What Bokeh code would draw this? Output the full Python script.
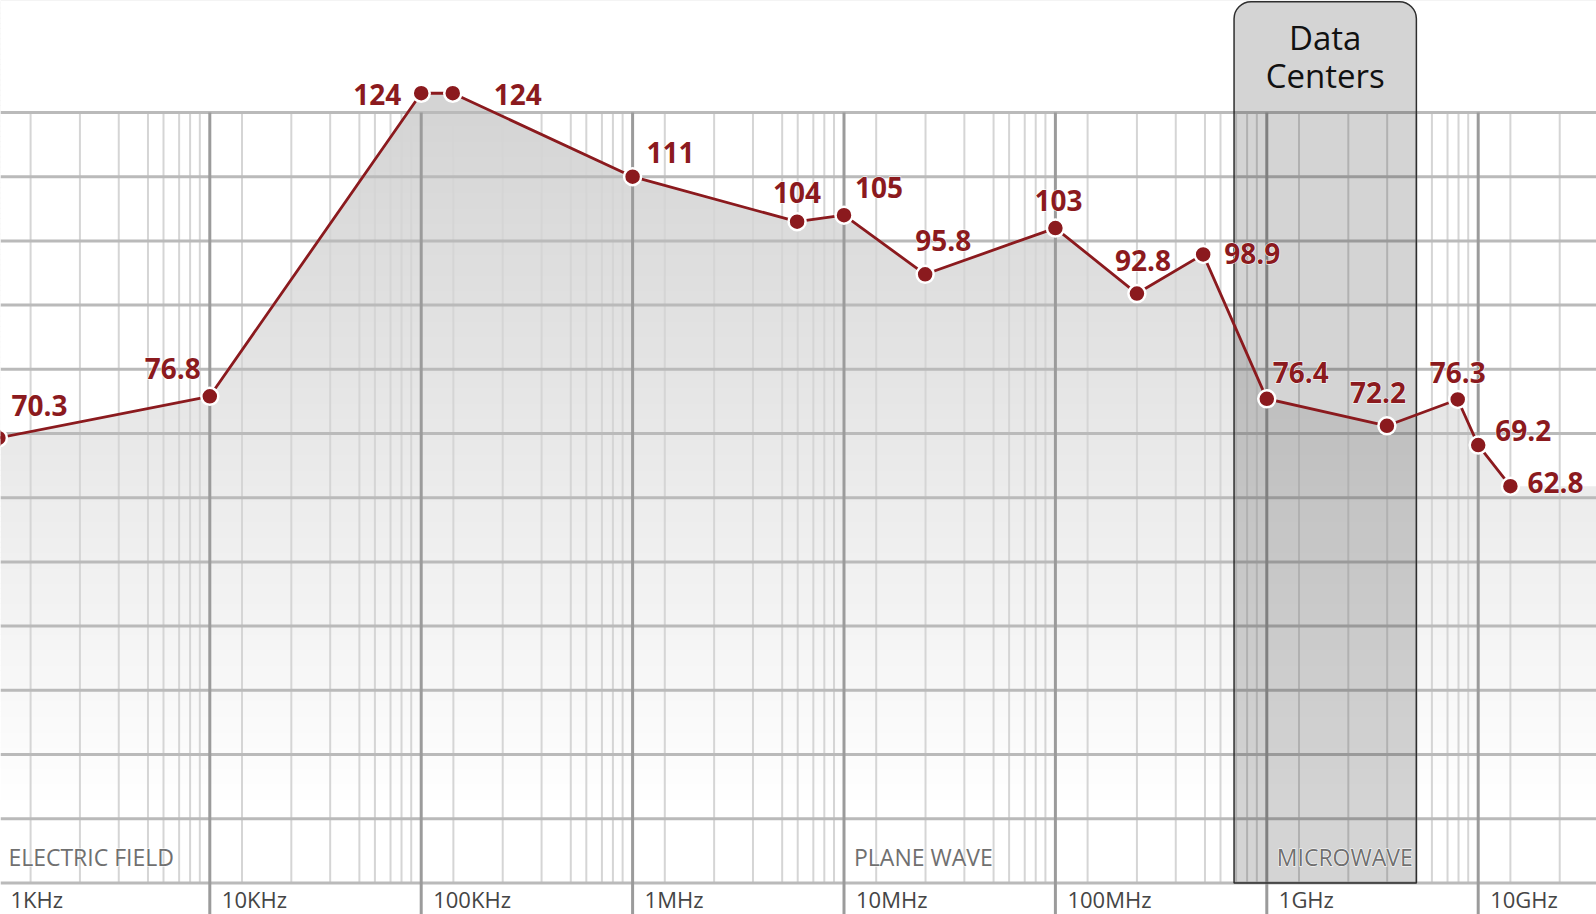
import numpy as np
from bokeh.plotting import figure
from bokeh.models import Range1d
from bokeh.core.properties import value
from bokeh.embed import file_html
from bokeh.resources import INLINE

# ---------------- data ----------------
freqs = [1e3, 1e4, 1e5, 1.41e5, 1e6, 6e6, 1e7, 2.42e7, 1e8, 2.43e8,
         5e8, 1e9, 3.7e9, 8e9, 1e10, 1.42e10]
levels = [70.3, 76.8, 124, 124, 111, 104, 105, 95.8, 103, 92.8,
          98.9, 76.4, 72.2, 76.3, 69.2, 62.8]

tick_freqs = [1e3, 1e4, 1e5, 1e6, 1e7, 1e8, 1e9, 1e10]
tick_labels = ["1KHz", "10KHz", "100KHz", "1MHz", "10MHz", "100MHz", "1GHz", "10GHz"]

region_freqs = [1e3, 1e7, 1e9]
region_labels = ["ELECTRIC FIELD", "PLANE WAVE", "MICROWAVE"]

band_lo, band_hi = 0.7e9, 5.1e9
band_title = ["Data", "Centers"]

minor_mult = [1.42, 2.43, 3.71, 5.1, 6.04, 7.16, 8.07, 8.97]
y_grid = [121, 111, 101, 91, 81, 71, 61, 51, 41, 31, 21, 11, 1]

# label placement (screen px offsets of the text baseline from each point) -- style only
label_dx = [13, -9, -20, 41, 14, 0, 11, 18, 3, 6, 21, 6, -9, 0, 17, 17]
label_dy = [-22, -17, 12, 12, -14, -19, -17, -23, -17, -23, 9, -16, -23, -17, -4, 7]
label_align = ["left", "right", "right", "left", "left", "center", "left", "center",
               "center", "center", "left", "left", "center", "center", "left", "left"]

# ---------------- geometry of the frame ----------------
PX_DEC = 211.4      # px per decade
X_REF = 209.3       # px of 10 kHz
PX_UNIT = 6.42      # px per dB
Y_REF = 112.0       # px of top grid line (121)

W, H = 1596, 914
x_start = 10 ** (4 + (0 - X_REF) / PX_DEC)
x_end = 10 ** (4 + (W - X_REF) / PX_DEC)
y_start = 121 - (H - Y_REF) / PX_UNIT
y_end = 121 + (Y_REF - 0) / PX_UNIT

RED = "#8b1a1e"
FONT = value("Open Sans")
BASE_FIX = 0.37     # baseline correction of the svg text renderer (em)

p = figure(width=W, height=H, x_axis_type="log",
           x_range=Range1d(x_start, x_end), y_range=Range1d(y_start, y_end),
           x_axis_location=None, y_axis_location=None,
           toolbar_location=None, output_backend="svg", min_border=0,
           outline_line_color=None, background_fill_color="white")
p.grid.visible = False

# ---------------- gradient under the curve ----------------
g_edges = np.arange(14.0, y_end + 1.0, 0.8)
g_bottom = g_edges[:-1]
g_top = g_edges[1:] + 0.15
g_mid = (g_bottom + g_edges[1:]) / 2
g_val = np.clip(255 - 43 * (g_mid - 14) / (124 - 14), 212, 255).astype(int)
g_colors = ["#%02x%02x%02x" % (v, v, v) for v in g_val]
p.quad(left=x_start, right=x_end, bottom=g_bottom, top=g_top,
       fill_color=g_colors, line_color=None)

# white mask above the curve
mask_x = [freqs[0] / 2, freqs[0] / 2] + freqs + [x_end * 2, x_end * 2]
mask_y = [y_end + 10, levels[0]] + levels + [levels[-1], y_end + 10]
p.patch(mask_x, mask_y, fill_color="white", line_color=None)

# ---------------- grid ----------------
decades = [10.0 ** k for k in range(2, 11)]
minor_x = [d * m for d in decades for m in minor_mult if x_start < d * m < x_end]
p.segment(x0=minor_x, x1=minor_x, y0=y_grid[-1], y1=y_grid[0],
          line_color="#d5d5d5", line_width=2)
p.segment(x0=x_start, x1=x_end, y0=y_grid, y1=y_grid,
          line_color="#bababa", line_width=3)
p.segment(x0=tick_freqs, x1=tick_freqs, y0=y_start, y1=y_grid[0],
          line_color="#9b9b9b", line_width=3)

# ---------------- data-center band ----------------
p.quad(left=[band_lo], right=[band_hi], bottom=[y_grid[-1]], top=[y_end - 0.2],
       fill_color="black", fill_alpha=0.17, line_color="#2e2e2e", line_width=1.5,
       border_radius=(17, 17, 0, 0))

band_mid = (band_lo * band_hi) ** 0.5
fix33 = BASE_FIX * 33
p.text(x=[band_mid] * 2, y=[y_end] * 2, text=band_title,
       y_offset=[49.3 - fix33, 87.3 - fix33],
       text_align="center", text_baseline="alphabetic", text_font=FONT,
       text_font_size="33px", text_color="#111111")

# ---------------- series ----------------
p.line(freqs, levels, line_color=RED, line_width=2.8)
p.scatter(freqs, levels, size=17, fill_color=RED, line_color="white", line_width=2.5)

fix28 = BASE_FIX * 28
for al in ["left", "center", "right"]:
    idx = [i for i, a in enumerate(label_align) if a == al]
    kw = dict(x=[freqs[i] for i in idx], y=[levels[i] for i in idx],
              text=[f"{levels[i]:g}" for i in idx],
              x_offset=[label_dx[i] for i in idx],
              y_offset=[label_dy[i] - fix28 for i in idx],
              text_align=al, text_baseline="alphabetic", text_font=FONT,
              text_font_style="bold", text_font_size="28px")
    p.text(text_color="white", text_outline_color="white", **kw)   # halo
    p.text(text_color=RED, **kw)

# ---------------- tick & region labels ----------------
p.text(x=tick_freqs, y=[y_start] * len(tick_freqs), text=tick_labels,
       x_offset=12, y_offset=-7 - BASE_FIX * 22, text_align="left",
       text_baseline="alphabetic", text_font=FONT, text_font_size="22px",
       text_color="#454545")

rkw = dict(x=region_freqs, y=[y_grid[-1]] * len(region_freqs), text=region_labels,
           x_offset=10, y_offset=-17.4 - BASE_FIX * 23, text_align="left",
           text_baseline="alphabetic", text_font=FONT, text_font_size="23px")
p.text(text_color="white", text_outline_color="white", **rkw)   # halo
p.text(text_color="#707070", **rkw)

open("out.html", "w").write(file_html(p, INLINE))
